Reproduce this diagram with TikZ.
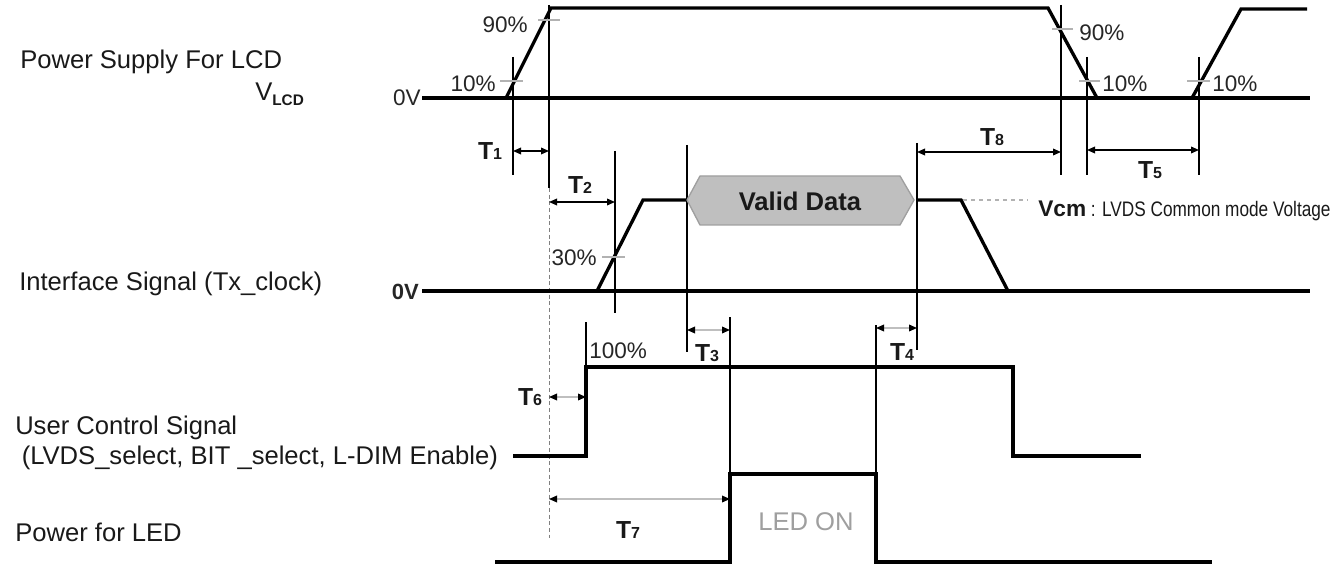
\documentclass[tikz,border=0pt]{standalone}
\usepackage{fontspec}
\setmainfont{Liberation Sans}
\usepackage{graphicx}
\usetikzlibrary{arrows.meta,positioning}

\newcommand{\Tn}[1]{{\fontsize{18.5}{20}\selectfont\bfseries T\fontsize{12}{14}\selectfont #1}}

\begin{document}
\begin{tikzpicture}[
	x=0.75pt, y=-0.75pt,
	every node/.style={font=\fontsize{19.2}{23}\selectfont, text=black!90, inner sep=0pt},
	sigl/.style={anchor=base west},
	pct/.style={font=\fontsize{16.9}{20}\selectfont, text=black!85},
	sig/.style={line width=2.5pt},
	guide/.style={line width=1.1pt},
	tick/.style={line width=1pt, draw=gray!60},
	dim/.style={{Triangle[length=6pt,width=5pt,color=black]}-{Triangle[length=6pt,width=5pt,color=black]}, line width=1pt},
	dimg/.style={dim, draw=black!25}
	]
	\useasboundingbox (0,0) rectangle (1333,566);
	
	% signal names
	\node[sigl] (lcd) at (20,68.5) {Power Supply For LCD};
	\node[sigl] (vlcd) at (255,101) {V{\fontsize{11.5}{12}\selectfont\bfseries\raisebox{-3.75pt}{LCD}}};
	\node[sigl] (iface) at (19,290.7) {Interface Signal (Tx\_clock)};
	\node[sigl] (user) at (15,434) {User Control Signal};
	\node[sigl] (userb) at (21.5,464) {(LVDS\_select, BIT \_select, L-DIM Enable)};
	\node[sigl] (led) at (15,541.7) {Power for LED};
	\node[pct, anchor=east] (zero1) at (421,98) {0V};
	\node[pct, anchor=east, font=\fontsize{16.5}{20}\selectfont\bfseries] (zero2) at (419,292) {0V};
	
	% guide lines
	\draw[guide] (513,57) -- (513,175);
	\draw[guide] (549,5) -- (549,188);
	\draw[gray, line width=0.6pt, dash pattern=on 3pt off 2pt] (549,188) -- (549,538);
	\draw[guide] (615,151) -- (615,313);
	\draw[guide] (687,145) -- (687,352);
	\draw[guide] (730,317) -- (730,474);
	\draw[guide] (876,325) -- (876,474);
	\draw[guide] (917,143) -- (917,350);
	\draw[guide] (586,322) -- (586,367);
	\draw[guide] (1061,5) -- (1061,175);
	\draw[guide] (1087,57) -- (1087,175);
	\draw[guide] (1199,57) -- (1199,175);
	
	% power supply for LCD
	\draw[sig] (422,98) -- (1310,98);
	\draw[sig] (506,98) -- (551,8) -- (1048,8) -- (1097,98);
	\draw[sig] (1192,98) -- (1241,9) -- (1307,9);
	
	% interface signal
	\draw[sig] (422,291) -- (1310,291);
	\draw[sig] (597,291) -- (643,200) -- (687,200);
	\draw[sig] (917,200) -- (961,200) -- (1008,291);
	\draw[dashed, gray!60, line width=1pt] (963,200) -- (1028,200);
	\draw[fill=gray!50, draw=gray!75, line width=1pt] (687,200) -- (700,176) -- (900,176) -- (914,200) -- (900,225) -- (700,225) -- cycle;
	\node[font=\fontsize{19.2}{23}\selectfont\bfseries] (valid) at (800,201) {Valid Data};
	\node[sigl] (vcm) at (1038,217) {{\fontsize{17}{18}\selectfont\bfseries Vcm}\scalebox{0.82}[1]{\fontsize{15.75}{18}\selectfont\ : LVDS Common mode Voltage}};
	
	% user control signal
	\draw[sig] (513,456) -- (586,456) -- (586,367) -- (1013,367) -- (1013,456) -- (1141,456);
	
	% power for LED
	\draw[sig] (495,562) -- (730,562) -- (730,474) -- (876,474) -- (876,562) -- (1212,562);
	\node[text=gray!75] (ledon) at (806,522) {LED ON};
	
	% level marks
	\draw[tick] (500,81) -- (523,81);
	\node[pct, anchor=east] (p10a) at (496,84) {10\%};
	\draw[tick] (538,20) -- (560,20);
	\node[pct, anchor=east] (p90a) at (528,25) {90\%};
	\draw[tick] (1052,29) -- (1073,29);
	\node[pct, anchor=west] (p90b) at (1079,33) {90\%};
	\draw[tick] (1079,81) -- (1100,81);
	\node[pct, anchor=west] (p10b) at (1102,84) {10\%};
	\draw[tick] (1187,81) -- (1210,81);
	\node[pct, anchor=west] (p10c) at (1212,84) {10\%};
	\draw[tick] (602,257) -- (625,257);
	\node[pct, anchor=east] (p30) at (597,258) {30\%};
	\node[pct, anchor=west] (p100) at (589,351) {100\%};
	
	% timings
	\coordinate (t1a) at (513,151); \coordinate (t1b) at (549,151);
	\coordinate (t2a) at (549,202); \coordinate (t2b) at (615,202);
	\coordinate (t3a) at (687,330); \coordinate (t3b) at (730,330);
	\coordinate (t4a) at (876,328); \coordinate (t4b) at (917,328);
	\coordinate (t5a) at (1087,150); \coordinate (t5b) at (1199,150);
	\coordinate (t6a) at (549,397); \coordinate (t6b) at (586,397);
	\coordinate (t7a) at (549,499); \coordinate (t7b) at (730,499);
	\coordinate (t8a) at (917,152); \coordinate (t8b) at (1061,152);
	
	\draw[dim] (t1a) -- (t1b);
	\draw[dim] (t2a) -- (t2b);
	\draw[dimg] (t3a) -- (t3b);
	\draw[dimg] (t4a) -- (t4b);
	\draw[dim] (t5a) -- (t5b);
	\draw[dimg] (t6a) -- (t6b);
	\draw[dimg] (t7a) -- (t7b);
	\draw[dim] (t8a) -- (t8b);
	
	\node (T1) at (490,151) {\Tn{1}};
	\node (T2) at (580,185) {\Tn{2}};
	\node (T3) at (707,353) {\Tn{3}};
	\node (T4) at (902,352) {\Tn{4}};
	\node (T5) at (1150,170) {\Tn{5}};
	\node (T6) at (530,397) {\Tn{6}};
	\node (T7) at (628,530) {\Tn{7}};
	\node (T8) at (992,137) {\Tn{8}};
	
\end{tikzpicture}
\end{document}
